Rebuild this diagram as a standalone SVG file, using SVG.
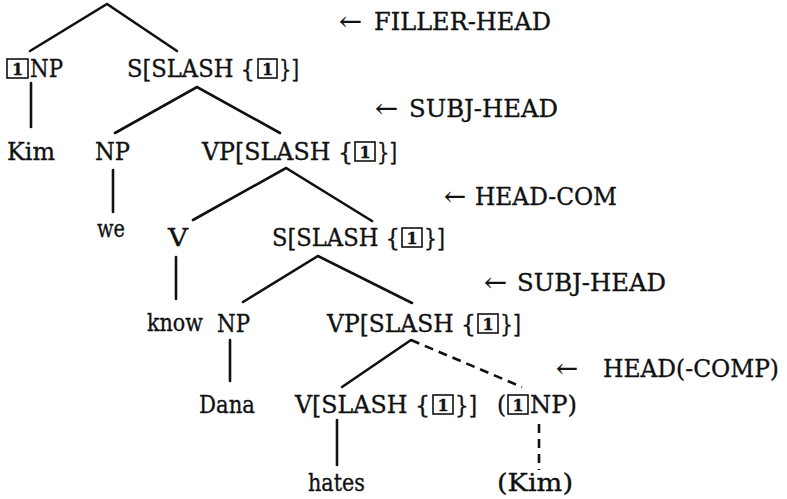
<svg xmlns="http://www.w3.org/2000/svg" width="787" height="499" viewBox="0 0 787 499">
  <style>
    text { font-family: "DejaVu Serif", "Liberation Serif", serif; font-size: 25px; fill: #111; stroke: #111; stroke-width: 0.35; }
    .tag { fill: none; stroke: #111; stroke-width: 1.6; }
    .tagn { font-size: 16px; font-weight: bold; }
    .edge { stroke: #111; stroke-width: 2.6; fill: none; stroke-linecap: round; }
    .dash { stroke-dasharray: 9 6; stroke-linecap: butt; }
    .rule { font-size: 25px; }
  </style>

  <!-- tree edges -->
  <g id="connectors">
    <path class="edge" d="M30,51 L107,4 L177,51"/>
    <path class="edge" d="M31,83 L31,127"/>
    <path class="edge" d="M115,133 L197,87 L280,133"/>
    <path class="edge" d="M113,170 L113,212"/>
    <path class="edge" d="M193,220 L286,168 L372,221"/>
    <path class="edge" d="M176,257 L176,299"/>
    <path class="edge" d="M243,302 L318,256 L412,303"/>
    <path class="edge" d="M230,340 L230,381"/>
    <path class="edge" d="M342,387 L411,340"/>
    <path class="edge dash" d="M411,340 L522,387"/>
    <path class="edge" d="M337,420 L337,465"/>
    <path class="edge dash" d="M539,424 L539,470"/>
  </g>

  <!-- row 1 -->
  <g id="np-filler">
    <rect class="tag" x="7" y="59" width="21" height="19"/>
    <text y="77"><tspan class="tagn" x="12" y="75">1</tspan><tspan x="30" y="77" textLength="33" lengthAdjust="spacingAndGlyphs">NP</tspan></text>
  </g>
  <g id="s-slash-top">
    <rect class="tag" x="258" y="59" width="19" height="19"/>
    <text y="77"><tspan x="127" textLength="128" lengthAdjust="spacingAndGlyphs">S[SLASH {</tspan><tspan class="tagn" x="262" y="75">1</tspan><tspan x="279" y="77" textLength="20" lengthAdjust="spacingAndGlyphs">}]</tspan></text>
  </g>

  <!-- row 2 -->
  <g id="kim"><text x="7" y="160" textLength="48" lengthAdjust="spacingAndGlyphs">Kim</text></g>
  <g id="np-we"><text x="95" y="160" textLength="35" lengthAdjust="spacingAndGlyphs">NP</text></g>
  <g id="vp-slash-1">
    <rect class="tag" x="355" y="142" width="20" height="19"/>
    <text y="160"><tspan x="202" textLength="151" lengthAdjust="spacingAndGlyphs">VP[SLASH {</tspan><tspan class="tagn" x="359.5" y="158">1</tspan><tspan x="377" y="160" textLength="20" lengthAdjust="spacingAndGlyphs">}]</tspan></text>
  </g>

  <!-- row 3 -->
  <g id="we"><text x="97" y="237" textLength="28" lengthAdjust="spacingAndGlyphs">we</text></g>
  <g id="v-know"><text x="168" y="246" textLength="20" lengthAdjust="spacingAndGlyphs">V</text></g>
  <g id="s-slash-2">
    <rect class="tag" x="402" y="228" width="20" height="19"/>
    <text y="246"><tspan x="272" textLength="128" lengthAdjust="spacingAndGlyphs">S[SLASH {</tspan><tspan class="tagn" x="406.5" y="244">1</tspan><tspan x="424" y="246" textLength="21" lengthAdjust="spacingAndGlyphs">}]</tspan></text>
  </g>

  <!-- row 4 -->
  <g id="know"><text x="147" y="331" textLength="56" lengthAdjust="spacingAndGlyphs">know</text></g>
  <g id="np-dana"><text x="217" y="332" textLength="33" lengthAdjust="spacingAndGlyphs">NP</text></g>
  <g id="vp-slash-2">
    <rect class="tag" x="478" y="314" width="20" height="19"/>
    <text y="332"><tspan x="327" textLength="149" lengthAdjust="spacingAndGlyphs">VP[SLASH {</tspan><tspan class="tagn" x="482.5" y="330">1</tspan><tspan x="500" y="332" textLength="21" lengthAdjust="spacingAndGlyphs">}]</tspan></text>
  </g>

  <!-- row 5 -->
  <g id="dana"><text x="199" y="413" textLength="56" lengthAdjust="spacingAndGlyphs">Dana</text></g>
  <g id="v-slash">
    <rect class="tag" x="433" y="395" width="20" height="19"/>
    <text y="413"><tspan x="295" textLength="135" lengthAdjust="spacingAndGlyphs">V[SLASH {</tspan><tspan class="tagn" x="437.5" y="411">1</tspan><tspan x="455" y="413" textLength="22" lengthAdjust="spacingAndGlyphs">}]</tspan></text>
  </g>
  <g id="np-gap">
    <rect class="tag" x="508" y="395" width="20" height="19"/>
    <text y="413"><tspan x="497" textLength="9" lengthAdjust="spacingAndGlyphs">(</tspan><tspan class="tagn" x="512.5" y="411">1</tspan><tspan x="530" y="413" textLength="47" lengthAdjust="spacingAndGlyphs">NP)</tspan></text>
  </g>

  <!-- row 6 -->
  <g id="hates"><text x="308" y="491" textLength="57" lengthAdjust="spacingAndGlyphs">hates</text></g>
  <g id="kim-gap"><text x="497" y="491" textLength="76" lengthAdjust="spacingAndGlyphs">(Kim)</text></g>

  <!-- schema labels -->
  <g id="rule-filler-head">
    <text class="rule" x="339" y="30" textLength="23" lengthAdjust="spacingAndGlyphs">←</text>
    <text class="rule" x="374" y="30" textLength="177" lengthAdjust="spacingAndGlyphs">FILLER-HEAD</text>
  </g>
  <g id="rule-subj-head-1">
    <text class="rule" x="375" y="117" textLength="23" lengthAdjust="spacingAndGlyphs">←</text>
    <text class="rule" x="409" y="117" textLength="149" lengthAdjust="spacingAndGlyphs">SUBJ-HEAD</text>
  </g>
  <g id="rule-head-comp">
    <text class="rule" x="444" y="205" textLength="22" lengthAdjust="spacingAndGlyphs">←</text>
    <text class="rule" x="475" y="205" textLength="142" lengthAdjust="spacingAndGlyphs">HEAD-COM</text>
  </g>
  <g id="rule-subj-head-2">
    <text class="rule" x="484" y="291" textLength="23" lengthAdjust="spacingAndGlyphs">←</text>
    <text class="rule" x="517" y="291" textLength="149" lengthAdjust="spacingAndGlyphs">SUBJ-HEAD</text>
  </g>
  <g id="rule-head-opt-comp">
    <text class="rule" x="556" y="377" textLength="22" lengthAdjust="spacingAndGlyphs">←</text>
    <text class="rule" x="603" y="377" textLength="176" lengthAdjust="spacingAndGlyphs" style="font-size:24px">HEAD(-COMP)</text>
  </g>
</svg>
